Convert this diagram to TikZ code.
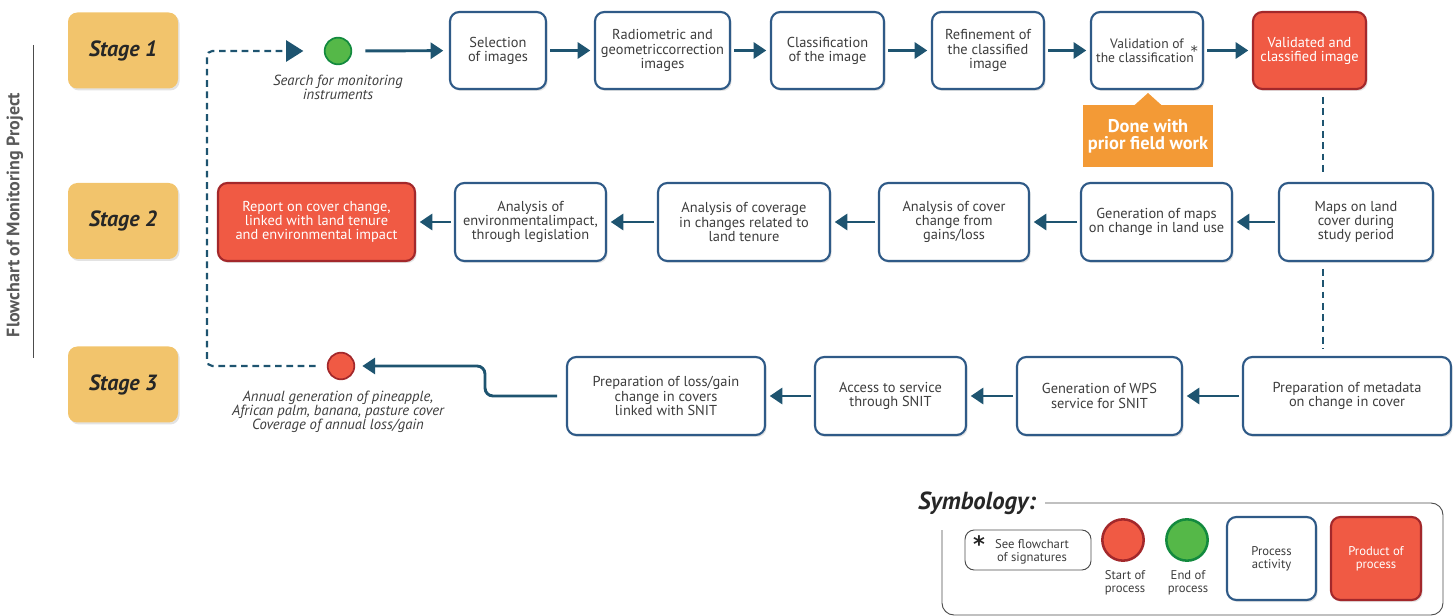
\documentclass[tikz,border=0pt]{standalone}
\usepackage{fontspec}
\setmainfont{PT Sans}
\newfontfamily\astfont{DejaVu Sans}
\usetikzlibrary{arrows.meta,shadows}
\definecolor{bbl}{HTML}{2F5A87}
\definecolor{arrc}{HTML}{1E5470}
\definecolor{redf}{HTML}{F05A44}
\definecolor{redb}{HTML}{A3282B}
\definecolor{grnf}{HTML}{55B848}
\definecolor{grnb}{HTML}{138A3E}
\definecolor{org}{HTML}{F39A36}
\definecolor{stg}{HTML}{F2C46C}
\definecolor{txt}{HTML}{3D3D3D}
\begin{document}
\begin{tikzpicture}[x=0.75pt,y=-0.75pt,
 every node/.style={inner sep=0pt, outer sep=0pt},
 shad/.style={drop shadow={opacity=0.22,shadow xshift=1.2pt,shadow yshift=-1.5pt}},
 proc/.style={draw=bbl, line width=1.6pt, fill=white, rounded corners=7pt, shad, align=center, text=txt, font=\fontsize{10.8}{10.6}\selectfont, minimum height=57.75pt},
 prod/.style={proc, draw=redb, fill=redf, text=white},
 stagebox/.style={fill=stg, rounded corners=7pt, shad, minimum width=82.5pt, minimum height=57pt, font=\fontsize{16.5}{18}\selectfont\bfseries\itshape, text=black!85},
 arr/.style={draw=arrc, line width=2.2pt, -{Triangle[length=9.5pt,width=12pt]}, shorten <=3pt, shorten >=3.5pt},
 dashl/.style={draw=arrc, line width=1.6pt, dash pattern=on 5pt off 3.5pt},
 startc/.style={circle, fill=redf, draw=redb, line width=1.3pt, minimum size=20pt},
 endc/.style={circle, fill=grnf, draw=grnb, line width=1.3pt, minimum size=20pt},
 note/.style={font=\fontsize{11}{10.6}\selectfont\itshape, text=txt, align=center},
 small/.style={font=\fontsize{9.5}{10}\selectfont, text=txt, align=center},
]
\useasboundingbox (0,0) rectangle (1453,616);

% title
\node[rotate=90, font=\fontsize{13.5}{15}\selectfont\bfseries, text=black!65] (title) at (15,215) {Flowchart of Monitoring Project};
\coordinate (tl1) at (33,45);
\coordinate (tl2) at (33,358);
\draw[black!70, line width=0.6pt] (tl1) -- (tl2);

% stages
\node[stagebox] (s1) at (123,50.5) {Stage 1};
\node[stagebox] (s2) at (123,221) {Stage 2};
\node[stagebox] (s3) at (123,384.5) {Stage\hspace{4pt}3};

% row 1
\node[endc] (srch) at (338,51) {};
\node[note] (srchl) at (338,87) {Search for monitoring\\instruments};
\node[proc, minimum width=72pt] (sel) at (498,50.5) {Selection\\of images};
\node[proc, minimum width=101.25pt] (rad) at (662.5,50.5) {Radiometric and\\geometriccorrection\\images};
\node[proc, minimum width=84.75pt] (cls) at (827.5,50.5) {Classification\\of the image};
\node[proc, minimum width=84pt] (ref) at (988,50.5) {Refinement of\\the classified\\image};
\node[proc, minimum width=84pt, font=\fontsize{10.2}{10.6}\selectfont] (val) at (1147,50.5) {Validation of\\the classification\hspace{-2.5pt}\smash{\raisebox{4pt}{\astfont\fontsize{11}{11}\selectfont *}}};
\node[prod, minimum width=84.75pt] (vci) at (1309.5,50.5) {Validated and\\classified image};

\draw[arr, shorten <=10.5pt, shorten >=5pt] (srch) -- (sel);
\draw[arr] (sel) -- (rad);
\draw[arr] (rad) -- (cls);
\draw[arr] (cls) -- (ref);
\draw[arr] (ref) -- (val);
\draw[arr] (val) -- (vci);

% callout
\node[fill=org, minimum width=97.5pt, minimum height=46.5pt, align=center, text=white, font=\fontsize{13.8}{13}\selectfont\bfseries] (done) at (1148,136) {Done with\\prior field work};
\fill[org] ([xshift=-10pt]done.north) -- ([yshift=9pt]done.north) -- ([xshift=10pt]done.north) -- cycle;

% row 2
\node[proc, minimum width=115.5pt, minimum height=58.5pt] (maps) at (1356,222) {Maps on land\\cover during\\study period};
\node[proc, minimum width=113.25pt, minimum height=58.5pt] (genm) at (1156.5,222) {Generation of maps\\on change in land use};
\node[proc, minimum width=112.5pt, minimum height=58.5pt] (anc) at (954,222) {Analysis of cover\\change from\\gains/loss};
\node[proc, minimum width=129pt, minimum height=58.5pt] (ancov) at (744,222) {Analysis of coverage\\in changes related to\\land tenure};
\node[proc, minimum width=113.25pt, minimum height=58.5pt] (anenv) at (530.5,222) {Analysis of\\environmentalimpact,\\through legislation};
\node[prod, minimum width=147.75pt, minimum height=58.5pt] (rep) at (316.5,222) {Report on cover change,\\linked with land tenure\\and environmental impact};

\draw[arr] (maps) -- (genm);
\draw[arr] (genm) -- (anc);
\draw[arr] (anc) -- (ancov);
\draw[arr] (ancov) -- (anenv);
\draw[arr] (anenv) -- (rep);

% row 3
\node[proc, minimum width=156pt, minimum height=58.5pt] (meta) at (1347,396) {Preparation of metadata\\on change in cover};
\node[proc, minimum width=123.75pt, minimum height=58.5pt] (wps) at (1099.5,396) {Generation of WPS\\service for SNIT};
\node[proc, minimum width=113.25pt, minimum height=58.5pt] (acc) at (890.5,396) {Access to service\\through SNIT};
\node[proc, minimum width=148.5pt, minimum height=58.5pt] (prep) at (666,396) {Preparation of loss/gain\\change in covers\\linked with SNIT};
\node[startc] (fin) at (341,366) {};
\node[note] (finl) at (338,412) {Annual generation of pineapple,\\African palm, banana, pasture cover\\Coverage of annual loss/gain};

\draw[arr] (meta) -- (wps);
\draw[arr] (wps) -- (acc);
\draw[arr] (acc) -- (prep);
\coordinate (bend) at (485,0);
\draw[arr, rounded corners=6pt, shorten <=7.5pt, shorten >=6pt] (prep.west) -- (prep.west -| bend) |- (fin.east);

% dashed connections
\coordinate (dx) at (1323,0);
\draw[dashl, shorten <=6pt, shorten >=6pt] (vci.south -| dx) -- (maps.north -| dx);
\draw[dashl, shorten <=6pt, shorten >=6pt] (maps.south -| dx) -- (meta.north -| dx);
\coordinate (ret) at (207,0);
\draw[dashl, rounded corners=4pt, shorten <=9pt, shorten >=16pt, -{Triangle[length=13pt,width=16pt]}] (fin.west) -- (fin.west -| ret) |- (srch.west);

% legend
\node[font=\fontsize{18.5}{20}\selectfont\bfseries\itshape, text=black!85] (sym) at (977,503) {Symbology:};
\coordinate (lf1) at (1045,503);
\coordinate (lf2) at (1443,503);
\coordinate (lf3) at (1443,615);
\coordinate (lf4) at (942,615);
\coordinate (lf5) at (942,530);
\draw[black!70, line width=0.7pt, rounded corners=9pt] (lf1) -- (lf2) -- (lf3) -- (lf4) -- (lf5);
\node[draw=black!70, line width=0.7pt, rounded corners=7pt, minimum width=94.5pt, minimum height=30pt] (sig) at (1028,550) {};
\node[small] (sigt) at (1032,552) {See flowchart\\of signatures};
\node[font=\astfont\fontsize{17}{17}\selectfont\bfseries, text=black!85] (ast) at (979,544) {*};
\node[startc, minimum size=31pt, line width=1.9pt] (lstart) at (1123,540) {};
\node[endc, minimum size=31pt, line width=1.9pt] (lend) at (1187,540) {};
\node[small] (lstartt) at (1125,583) {Start of\\process};
\node[small] (lendt) at (1188,583) {End of\\process};
\node[proc, minimum width=66.75pt, minimum height=62.25pt, font=\fontsize{9.5}{10}\selectfont] (lproc) at (1271.5,558.5) {Process\\activity};
\node[prod, minimum width=67.5pt, minimum height=62.25pt, font=\fontsize{9.5}{10}\selectfont] (lprod) at (1376,558.5) {Product of\\process};
\end{tikzpicture}
\end{document}
